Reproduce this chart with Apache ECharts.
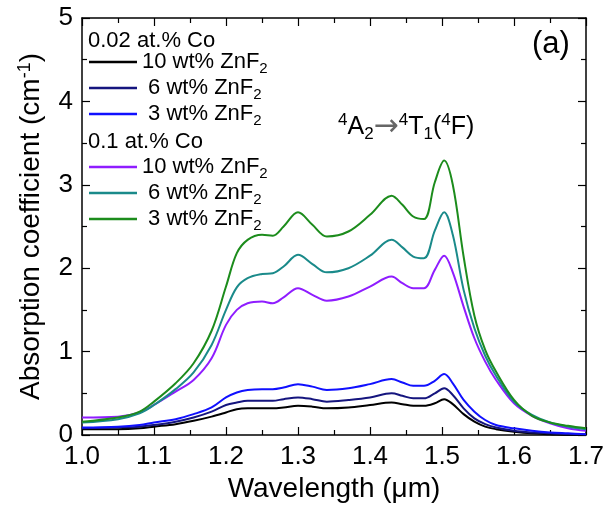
<!DOCTYPE html>
<html>
<head>
<meta charset="utf-8">
<script src="https://cdn.jsdelivr.net/npm/echarts@6/dist/echarts.min.js"></script>
<style>
html,body{margin:0;padding:0;background:#fff;}
#c{width:609px;height:511px;}
</style>
</head>
<body>
<div id="c"></div>
<script>
// Wavelength (µm)
const wavelength = [1.00,1.05,1.08,1.10,1.13,1.155,1.18,1.20,1.215,1.23,1.25,1.265,1.28,1.30,1.32,1.34,1.37,1.40,1.43,1.445,1.46,1.475,1.49,1.503,1.515,1.53,1.545,1.56,1.575,1.60,1.625,1.65,1.675,1.70];

// 0.02 at.% Co
const co002_10wt = [0.07,0.07,0.08,0.10,0.13,0.17,0.22,0.27,0.31,0.32,0.32,0.32,0.33,0.35,0.34,0.32,0.33,0.36,0.39,0.37,0.35,0.35,0.38,0.43,0.37,0.25,0.16,0.10,0.07,0.04,0.02,0.01,0.00,0.00];
const co002_6wt  = [0.08,0.09,0.10,0.12,0.16,0.21,0.28,0.36,0.39,0.41,0.41,0.41,0.43,0.45,0.43,0.40,0.42,0.45,0.50,0.47,0.44,0.44,0.50,0.56,0.48,0.32,0.20,0.13,0.09,0.05,0.03,0.02,0.01,0.01];
const co002_3wt  = [0.09,0.10,0.12,0.15,0.19,0.25,0.33,0.45,0.51,0.54,0.55,0.55,0.57,0.61,0.58,0.54,0.56,0.61,0.67,0.63,0.59,0.59,0.65,0.73,0.62,0.42,0.28,0.18,0.12,0.08,0.05,0.03,0.02,0.01];

// 0.1 at.% Co
const co01_10wt = [0.21,0.22,0.27,0.36,0.52,0.66,0.92,1.32,1.50,1.58,1.60,1.58,1.65,1.76,1.68,1.61,1.66,1.78,1.90,1.82,1.76,1.76,1.98,2.15,1.95,1.54,1.16,0.88,0.66,0.38,0.23,0.14,0.08,0.05];
const co01_6wt  = [0.15,0.19,0.26,0.36,0.55,0.75,1.08,1.50,1.77,1.88,1.93,1.94,2.02,2.16,2.05,1.95,2.00,2.15,2.34,2.25,2.14,2.12,2.45,2.67,2.40,1.74,1.28,0.95,0.71,0.40,0.24,0.15,0.10,0.07];
const co01_3wt  = [0.16,0.21,0.28,0.40,0.62,0.86,1.25,1.78,2.18,2.34,2.40,2.39,2.50,2.67,2.52,2.38,2.44,2.64,2.87,2.76,2.62,2.59,3.03,3.29,3.00,2.14,1.43,1.02,0.76,0.42,0.23,0.15,0.11,0.08];

const xTicks = [1.0,1.1,1.2,1.3,1.4,1.5,1.6,1.7];
const yTicks = [0,1,2,3,4,5];

const legendLabels = {
  'a10':'10 wt% ZnF', 'a6':' 6 wt% ZnF', 'a3':' 3 wt% ZnF',
  'b10':'10 wt% ZnF', 'b6':' 6 wt% ZnF', 'b3':' 3 wt% ZnF'
};

const seriesDefs = [
  {name:'a10', data:co002_10wt, color:'#000000'},
  {name:'a6',  data:co002_6wt,  color:'#15157e'},
  {name:'a3',  data:co002_3wt,  color:'#1010ff'},
  {name:'b10', data:co01_10wt,  color:'#8f1dff'},
  {name:'b6',  data:co01_6wt,   color:'#1a8a8a'},
  {name:'b3',  data:co01_3wt,   color:'#1c8c1c'}
];

const FONT = '"Liberation Sans", Arial, sans-serif';
const chart = echarts.init(document.getElementById('c'), null, {renderer:'canvas'});

const legendText = {
  fontFamily: FONT, color:'#000',
  rich: {
    t:{fontSize:22, fontFamily:FONT, lineHeight:22, color:'#000'},
    s:{fontSize:15, fontFamily:FONT, lineHeight:15, padding:[13,0,0,0], color:'#000'}
  }
};
const legendFmt = n => '{t|' + legendLabels[n] + '}{s|2}';

const axisCommon = {
  type:'value',
  axisLine:{show:true, onZero:false, lineStyle:{color:'#000', width:1.5}},
  axisTick:{show:true, inside:true, length:8, lineStyle:{color:'#000', width:1.2}},
  minorTick:{show:true, splitNumber:2, length:5, lineStyle:{color:'#000', width:1.2}},
  splitLine:{show:false}
};

chart.setOption({
  animation:false,
  backgroundColor:'#fff',
  grid:{left:82, right:23, top:18, bottom:76, containLabel:false, outerBoundsMode:'none'},
  xAxis:[
    Object.assign({}, axisCommon, {
      position:'bottom', min:1.0, max:1.7, interval:0.1,
      axisLabel:{show:true, margin:9, fontSize:26, fontFamily:FONT, color:'#000', formatter:v=>v.toFixed(1)},
      name:'Wavelength (\u03bcm)', nameLocation:'middle', nameGap:38,
      nameTextStyle:{fontSize:28, fontFamily:FONT, color:'#000'}
    }),
    Object.assign({}, axisCommon, {
      position:'top', min:1.0, max:1.7, interval:0.1, axisLabel:{show:false}
    })
  ],
  yAxis:[
    Object.assign({}, axisCommon, {
      position:'left', min:0, max:5, interval:1,
      axisLabel:{show:true, margin:9, fontSize:26, fontFamily:FONT, color:'#000'},
      name:'{n|Absorption coefficient (cm}{p|-1}{n|)}', nameLocation:'middle', nameGap:35, nameRotate:90,
      nameTextStyle:{fontFamily:FONT, color:'#000',
        rich:{
          n:{fontSize:28, fontFamily:FONT, lineHeight:28, color:'#000'},
          p:{fontSize:18, fontFamily:FONT, lineHeight:18, padding:[0,0,14,0], color:'#000'}
        }}
    }),
    Object.assign({}, axisCommon, {
      position:'right', min:0, max:5, interval:1, axisLabel:{show:false}
    })
  ],
  legend:[
    {
      data:['a10','a6','a3'], orient:'vertical', left:84, top:43,
      icon:'rect', itemWidth:48, itemHeight:2.5, itemGap:-2,
      formatter:legendFmt, textStyle:legendText,
      selectedMode:false
    },
    {
      data:['b10','b6','b3'], orient:'vertical', left:84, top:148,
      icon:'rect', itemWidth:48, itemHeight:2.5, itemGap:-2,
      formatter:legendFmt, textStyle:legendText,
      selectedMode:false
    }
  ],
  graphic:[
    {type:'text', left:88, top:30, style:{text:'0.02 at.% Co', font:'22px "Liberation Sans", Arial, sans-serif', fill:'#000'}},
    {type:'text', left:88, top:131, style:{text:'0.1 at.% Co', font:'22px "Liberation Sans", Arial, sans-serif', fill:'#000'}},
    {type:'text', left:532, top:29, style:{text:'(a)', font:'31px "Liberation Sans", Arial, sans-serif', fill:'#000'}},
    {type:'text', left:338, top:111, style:{
      text:'{p|4}{n|A}{b|2}{a|\u2192}{p|4}{n|T}{b|1}{n|(}{p|4}{n|F)}',
      rich:{
        n:{fontSize:25, fontFamily:FONT, lineHeight:25, fill:'#000'},
        a:{fontSize:30, fontFamily:'"DejaVu Sans", sans-serif', lineHeight:25, fill:'#666'},
        p:{fontSize:17, fontFamily:FONT, lineHeight:17, padding:[0,0,13,0], fill:'#000'},
        b:{fontSize:17, fontFamily:FONT, lineHeight:17, padding:[15,0,0,0], fill:'#000'}
      }
    }}
  ],
  series: seriesDefs.map(s => ({
    name:s.name, type:'line', xAxisIndex:0, yAxisIndex:0,
    data: wavelength.map((x,i)=>[x, s.data[i]]),
    smooth:0.35, symbol:'none', showSymbol:false,
    lineStyle:{color:s.color, width:2}, itemStyle:{color:s.color},
    z: 2
  }))
});
</script>
</body>
</html>
